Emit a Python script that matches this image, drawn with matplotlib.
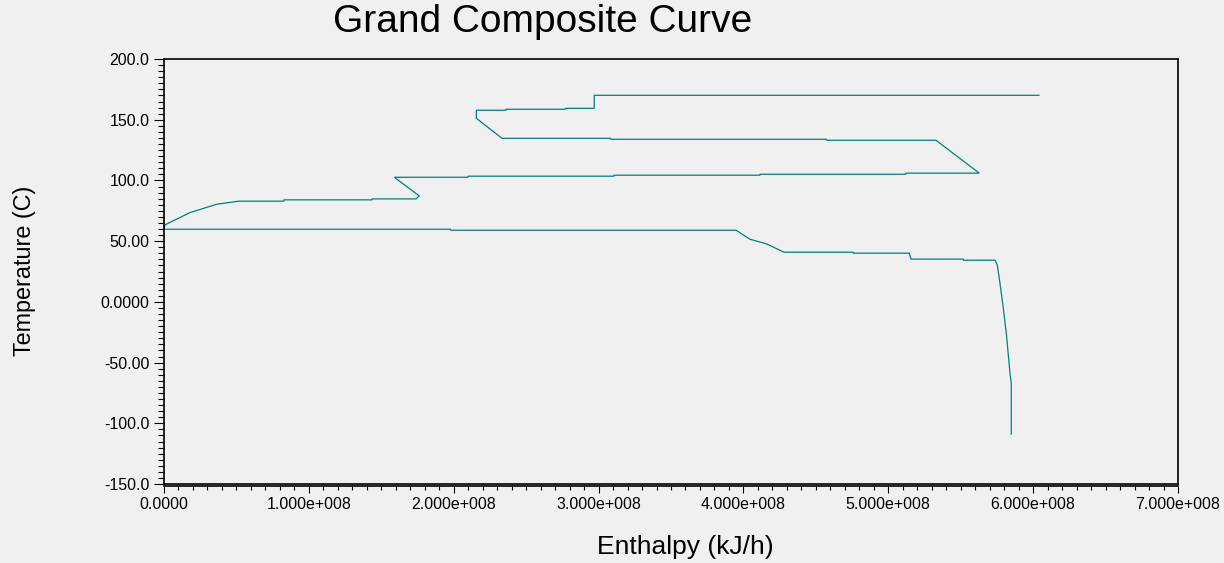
import numpy as np
import matplotlib
matplotlib.use("Agg")
import matplotlib.pyplot as plt
from matplotlib.ticker import MultipleLocator

# Grand composite curve (enthalpy in 1e8 kJ/h, temperature in C)
enthalpy_e8 = [6.040, 2.970, 2.970, 2.770, 2.770, 2.361, 2.361, 2.156, 2.156, 2.333,
               3.084, 3.084, 4.575, 4.575, 5.329, 5.628, 5.122, 5.122, 4.114, 4.114,
               3.106, 3.106, 2.099, 2.099, 1.590, 1.762, 1.740, 1.436, 1.436, 0.828,
               0.828, 0.513, 0.364, 0.179, 0.007, 0.000, 1.979, 1.979, 3.949, 4.045,
               4.160, 4.280, 4.758, 4.758, 5.145, 5.157, 5.518, 5.518, 5.737, 5.752,
               5.771, 5.794, 5.817, 5.840, 5.849, 5.849]
temperature = [170.1, 170.1, 159.4, 159.4, 158.6, 158.6, 157.8, 157.8, 151.2, 134.7,
               134.7, 133.9, 133.9, 133.1, 133.1, 106.0, 106.0, 105.1, 105.1, 104.3,
               104.3, 103.5, 103.5, 102.6, 102.6, 87.3, 84.8, 84.8, 84.0, 84.0,
               82.9, 82.9, 80.4, 73.5, 63.4, 59.8, 59.8, 59.0, 59.0, 51.6,
               47.7, 40.9, 40.9, 40.1, 40.1, 35.2, 35.2, 34.3, 34.3, 30.5,
               15.4, -5.2, -28.5, -58.7, -66.9, -108.9]

y_ticks = [200, 150, 100, 50, 0, -50, -100, -150]
y_tick_labels = ["200.0", "150.0", "100.0", "50.00", "0.0000", "-50.00", "-100.0", "-150.0"]
x_ticks = [0, 1e8, 2e8, 3e8, 4e8, 5e8, 6e8, 7e8]
x_tick_labels = ["0.0000", "1.000e+008", "2.000e+008", "3.000e+008",
                 "4.000e+008", "5.000e+008", "6.000e+008", "7.000e+008"]

bg = "#f0f0f0"
plt.rcParams['font.family'] = ['Liberation Sans', 'DejaVu Sans']

fig = plt.figure(figsize=(12.24, 5.63), dpi=100, facecolor=bg)
ax = fig.add_axes([164 / 1224, (563 - 484) / 563, (1178 - 164) / 1224, (484 - 59) / 563])
ax.set_facecolor(bg)

x = np.array(enthalpy_e8) * 1e8
ax.plot(x, temperature, color="#008080", lw=0.9, solid_joinstyle="miter")

ax.set_xlim(0, 7e8)
ax.set_ylim(-150, 200)
ax.set_yticks(y_ticks)
ax.set_yticklabels(y_tick_labels)
ax.set_xticks(x_ticks)
ax.set_xticklabels(x_tick_labels)
ax.yaxis.set_minor_locator(MultipleLocator(5))
ax.xaxis.set_minor_locator(MultipleLocator(1e7))
ax.tick_params(axis="y", which="major", length=7.5, width=0.8, labelsize=11.5, pad=3)
ax.tick_params(axis="y", which="minor", length=4.5, width=0.8)
ax.tick_params(axis="x", which="major", length=5, width=0.8, labelsize=11.5, pad=3)
ax.tick_params(axis="x", which="minor", length=3, width=0.8)

for s in ax.spines.values():
    s.set_linewidth(1.2)
ax.spines['bottom'].set_position(('outward', 1.2))
# box bottom line just above the x axis
ax.plot([0, 1], [0, 0], transform=ax.transAxes, color="black", lw=1.2, clip_on=False)

fig.text(543 / 1224, 1 - 22 / 563, "Grand Composite Curve", fontsize=28,
         ha="center", va="center")
fig.text(685 / 1224, 1 - 547 / 563, "Enthalpy (kJ/h)", fontsize=19,
         ha="center", va="center")
fig.text(25 / 1224, 1 - 271 / 563, "Temperature (C)", fontsize=16.8,
         ha="center", va="center", rotation=90)

fig.savefig("out.png", dpi=100, facecolor=bg)
